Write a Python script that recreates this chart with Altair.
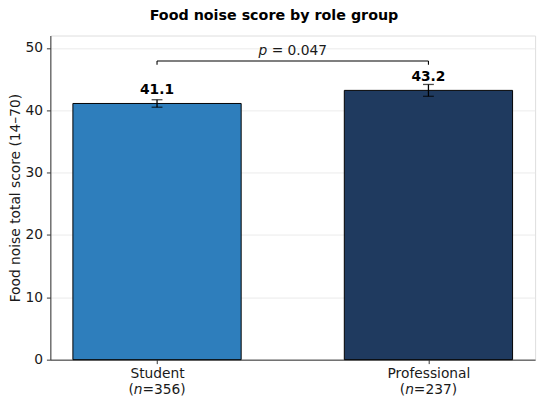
import json
import altair as alt
import pandas as pd

# ---- data ----
groups = ["Student", "Professional"]
n_values = [356, 237]
means = [41.1, 43.2]
errors = [0.6, 0.95]
bar_colors = ["#2E7EBC", "#1F3A5F"]
value_labels = ["41.1", "43.2"]
p_text = "= 0.047"
bracket_level = 47.9
bracket_drop = 0.6
y_ticks = [0, 10, 20, 30, 40, 50]
y_max = 52.0

# ---- layout / style ----
W, H = 492, 329
BAR_HALF = 0.31
FONT = "DejaVu Sans"
TXT = "#1a1a1a"
FS = 14

df = pd.DataFrame({
    "pos": list(range(len(groups))),
    "group": groups,
    "n": n_values,
    "mean": means,
    "err": errors,
    "color": bar_colors,
    "vlabel": value_labels,
})
df["x_lo"] = df["pos"] - BAR_HALF
df["x_hi"] = df["pos"] + BAR_HALF
df["e_lo"] = df["mean"] - df["err"]
df["e_hi"] = df["mean"] + df["err"]
df["open"] = "("
df["nch"] = "n"
df["rest"] = ["=" + str(v) + ")" for v in n_values]

bracket_h = pd.DataFrame({"x": [0], "x2": [1], "y": [bracket_level]})
bracket_v = pd.DataFrame({"x": [0, 1], "y": [bracket_level - bracket_drop] * 2,
                          "y2": [bracket_level] * 2})
p_df = pd.DataFrame({"x": [0.5], "y": [bracket_level], "p": ["p"], "rest": [p_text]})

xscale = alt.Scale(domain=[-0.393, 1.393], nice=False, zero=False)
yscale = alt.Scale(domain=[0, y_max], nice=False, zero=True)

label_expr = json.dumps(groups) + "[datum.value]"

x_axis = alt.Axis(values=[0, 1], labelExpr=label_expr, grid=False, title=None,
                  tickSize=4, tickColor="#333333", domainColor="#333333",
                  labelFontSize=FS, labelColor=TXT, labelFont=FONT,
                  labelBaseline="alphabetic", labelPadding=14)
y_axis = alt.Axis(values=y_ticks, title="Food noise total score (14\u201370)",
                  titleFontSize=FS, titleFontWeight="normal", titleFont=FONT,
                  titleColor=TXT, titleX=-31, titleY=H / 2, titleAngle=270,
                  titleBaseline="alphabetic", titleAlign="center",
                  grid=True, gridColor="#e6e6e6", gridWidth=0.8,
                  tickSize=4, tickColor="#333333", domainColor="#333333",
                  labelFontSize=FS, labelColor=TXT, labelFont=FONT, labelPadding=4)


def X(field):
    return alt.X(field, scale=xscale, axis=x_axis)


def Y(field):
    return alt.Y(field, scale=yscale, axis=y_axis)


base = alt.Chart(df)

bars = base.mark_bar(stroke="black", strokeWidth=1).encode(
    x=X("x_lo:Q"),
    x2="x_hi:Q",
    y=Y("mean:Q"),
    y2=alt.datum(0),
    color=alt.Color("color:N", scale=None),
)

err_rule = base.mark_rule(color="black", strokeWidth=1.3).encode(
    x=X("pos:Q"), y=Y("e_lo:Q"), y2="e_hi:Q",
)
cap_lo = base.mark_tick(orient="horizontal", size=11, thickness=1.3, color="black").encode(
    x=X("pos:Q"), y=Y("e_lo:Q"),
)
cap_hi = base.mark_tick(orient="horizontal", size=11, thickness=1.3, color="black").encode(
    x=X("pos:Q"), y=Y("e_hi:Q"),
)

vals = base.mark_text(font=FONT, fontSize=FS, fontWeight="bold", color="black",
                      baseline="alphabetic", dy=-10).encode(
    x=X("pos:Q"), y=Y("mean:Q"), text="vlabel:N",
)

br_h = alt.Chart(bracket_h).mark_rule(color="black", strokeWidth=1.1).encode(
    x=X("x:Q"), x2="x2:Q", y=Y("y:Q"),
)
br_v = alt.Chart(bracket_v).mark_rule(color="black", strokeWidth=1.1).encode(
    x=X("x:Q"), y=Y("y:Q"), y2="y2:Q",
)
p_it = alt.Chart(p_df).mark_text(font=FONT, fontSize=FS, fontStyle="italic", color=TXT,
                                 align="left", baseline="alphabetic", dx=-34.8, dy=-6).encode(
    x=X("x:Q"), y=Y("y:Q"), text="p:N",
)
p_rest = alt.Chart(p_df).mark_text(font=FONT, fontSize=FS, color=TXT,
                                   align="left", baseline="alphabetic", dx=-21.4, dy=-6).encode(
    x=X("x:Q"), y=Y("y:Q"), text="rest:N",
)

n_y = alt.value(H + 35)
n_open = base.mark_text(font=FONT, fontSize=FS, color=TXT, align="right",
                        baseline="alphabetic", dx=-23.6).encode(
    x=X("pos:Q"), y=n_y, text="open:N")
n_it = base.mark_text(font=FONT, fontSize=FS, fontStyle="italic", color=TXT, align="left",
                      baseline="alphabetic", dx=-23.6).encode(
    x=X("pos:Q"), y=n_y, text="nch:N")
n_rest = base.mark_text(font=FONT, fontSize=FS, color=TXT, align="left",
                        baseline="alphabetic", dx=-14.8).encode(
    x=X("pos:Q"), y=n_y, text="rest:N")

chart = alt.layer(
    bars, err_rule, cap_lo, cap_hi, vals, br_h, br_v, p_it, p_rest, n_open, n_it, n_rest
).properties(
    width=W, height=H,
    title=alt.TitleParams("Food noise score by role group", font=FONT, fontSize=14.5,
                          fontWeight="bold", color="black", anchor="middle", dx=-19,
                          offset=12),
    autosize=alt.AutoSizeParams(type="none"),
    padding={"left": 43, "top": 25, "right": 7, "bottom": 38},
).configure_view(strokeWidth=0).configure(font=FONT)

chart.save("out.html", embed_options={"renderer": "svg", "actions": False})
